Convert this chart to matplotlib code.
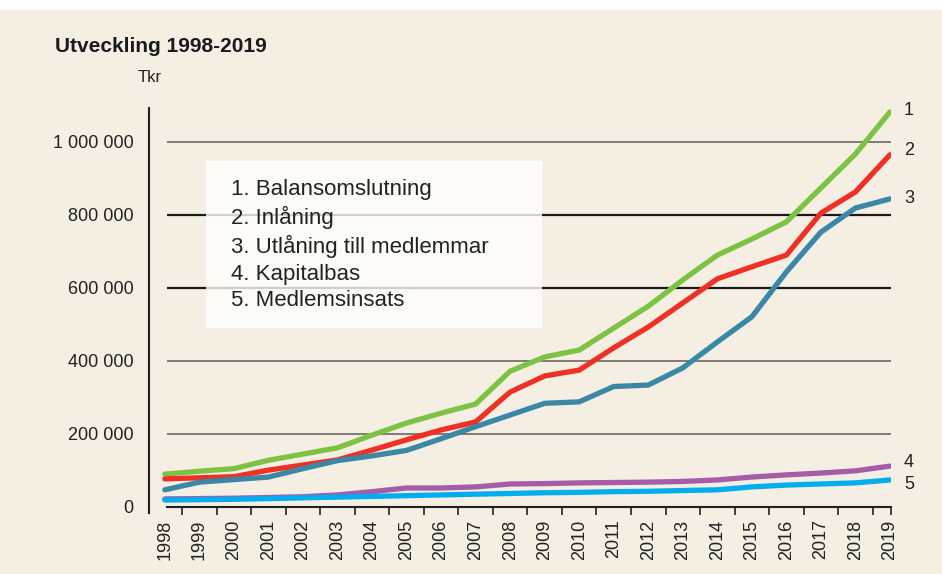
#!/usr/bin/env python3
import matplotlib
matplotlib.use('Agg')
import matplotlib.pyplot as plt
from matplotlib.patches import Rectangle

# år och serier (Tkr), avlästa ur originalbilden
years = list(range(1998, 2020))
balansomslutning = [90000, 98000, 105000, 128000, 145000, 162000, 197000, 230000, 257000, 282000,
                    372000, 411000, 430000, 490000, 550000, 622000, 690000, 734000, 781000, 874000,
                    967000, 1082000]
inlaning = [77000, 80000, 83000, 101000, 115000, 129000, 156000, 184000, 211000, 233000,
            315000, 359000, 375000, 436000, 493000, 559000, 625000, 658000, 690000, 805000,
            863000, 965000]
utlaning = [47000, 68000, 75000, 82000, 105000, 127000, 140000, 155000, 187000, 220000,
            252000, 284000, 288000, 330000, 334000, 381000, 452000, 521000, 644000, 753000,
            819000, 844000]
kapitalbas = [22000, 23000, 24000, 26000, 28000, 33000, 42000, 52000, 52000, 55000,
              63000, 64000, 66000, 67000, 68000, 70000, 74000, 82000, 88000, 93000,
              99000, 112000]
medlemsinsats = [19000, 20000, 21000, 23000, 25000, 27000, 29000, 31000, 33000, 35000,
                 37000, 39000, 40000, 42000, 43000, 45000, 47000, 55000, 60000, 63000,
                 66000, 74000]

series = [
    ('1. Balansomslutning', balansomslutning, '#7dc242', '1'),
    ('2. Inlåning', inlaning, '#ee3124', '2'),
    ('3. Utlåning till medlemmar', utlaning, '#3a87a6', '3'),
    ('4. Kapitalbas', kapitalbas, '#a65ca8', '4'),
    ('5. Medlemsinsats', medlemsinsats, '#00aeef', '5'),
]
label_offsets = [(14, 2), (14, 4), (14, 0), (14, 4), (14, -5)]

yticks = [0, 200000, 400000, 600000, 800000, 1000000]
ytick_labels = ['0', '200 000', '400 000', '600 000', '800 000', '1 000 000']
grid_colors = {200000: '#77716b', 400000: '#77716b', 600000: '#1a1a1a',
               800000: '#1a1a1a', 1000000: '#77716b'}

plt.rcParams['font.family'] = ['Liberation Sans', 'DejaVu Sans']

bg = '#f4eee3'
fig = plt.figure(figsize=(9.42, 5.74), dpi=100, facecolor=bg)
W, H = 942, 574
# vit kant överst
fig.patches.append(Rectangle((0, 1 - 10 / H), 1, 10 / H, transform=fig.transFigure,
                             facecolor='white', edgecolor='none', zorder=0))

ax = fig.add_axes([149 / W, 1 - 513 / H, (891 - 149) / W, (513 - 108) / H])
ax.set_facecolor('none')
ax.set_xlim(1997.54, 2019.03)
ax.set_ylim(-16500, 1093000)

x0, x1 = 1998.06, 2019.03
for v in yticks[1:]:
    ax.hlines(v, x0, x1, color=grid_colors[v], lw=1.6 if grid_colors[v] == '#1a1a1a' else 1.3,
              zorder=1)

# legendruta
ax.add_patch(Rectangle(((206 - 149) / 742, (513 - 328) / 405), (542 - 206) / 742, (328 - 161) / 405,
                       transform=ax.transAxes, facecolor='white', alpha=0.8,
                       edgecolor='none', zorder=2))

lines = []
for (name, vals, col, tag), off in zip(series, label_offsets):
    ln, = ax.plot(years, vals, color=col, lw=3.8, solid_capstyle='round',
                  solid_joinstyle='round', label=name, zorder=4)
    lines.append(ln)
    ax.annotate(tag, (years[-1], vals[-1]), xytext=off, textcoords='offset pixels',
                fontsize=13, color='#222222', va='center', ha='left')

leg = ax.legend(handles=lines, loc='upper left', bbox_to_anchor=((231 - 149) / 742, (513 - 179) / 405),
                frameon=False, handlelength=0, handletextpad=0, borderpad=0,
                borderaxespad=0, labelspacing=0.26, fontsize=16)
for h in leg.legend_handles:
    h.set_visible(False)
for t in leg.get_texts():
    t.set_color('#222222')

# axlar
for s in ['top', 'right']:
    ax.spines[s].set_visible(False)
ax.spines['left'].set_color('#222222')
ax.spines['left'].set_linewidth(1.5)
ax.spines['bottom'].set_position(('data', 0))
ax.spines['bottom'].set_bounds(x0, x1)
ax.spines['bottom'].set_color('#222222')
ax.spines['bottom'].set_linewidth(1.5)

ax.set_yticks(yticks)
ax.set_yticklabels(ytick_labels)
ax.tick_params(axis='y', length=0, pad=11, labelsize=13, labelcolor='#222222')

ax.set_xticks(years)
ax.set_xticklabels([str(y) for y in years], rotation=90)
ax.set_xticks([y + 0.5 for y in years[:-1]] + [x1], minor=True)
ax.tick_params(axis='x', which='major', length=0, pad=9, labelsize=13, labelcolor='#222222')
ax.tick_params(axis='x', which='minor', length=6, width=1.2, color='#222222', direction='out')

fig.text(55 / W, 1 - 46 / H, 'Utveckling 1998-2019', fontsize=15, fontweight='bold',
         color='#1a1a1a', va='center', ha='left')
fig.text(138 / W, 1 - 78 / H, 'Tkr', fontsize=12, color='#222222', va='center', ha='left')

fig.savefig('out.png', dpi=100, facecolor=bg)
